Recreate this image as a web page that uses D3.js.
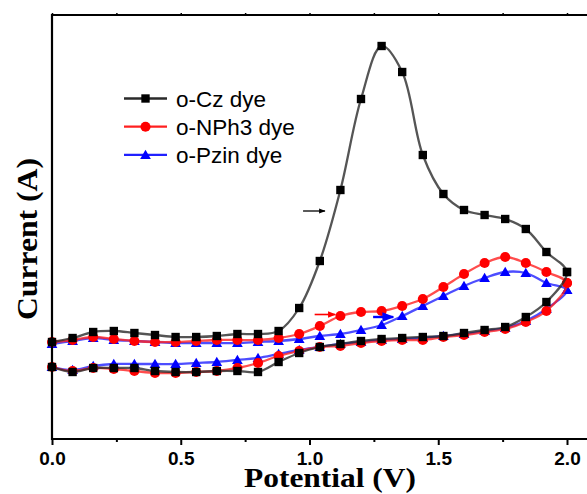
<!DOCTYPE html>
<html>
<head>
<meta charset="utf-8">
<script src="https://cdn.jsdelivr.net/npm/d3@7"></script>
<style>
  html, body { margin: 0; padding: 0; background: #fff; }
  svg { display: block; }
</style>
</head>
<body>
<svg id="chart" width="587" height="494"></svg>
<script>
// Potential sweep (V), sampled every 0.08 V
const potential = [0.00, 0.08, 0.16, 0.24, 0.32, 0.40, 0.48, 0.56, 0.64, 0.72, 0.80, 0.88, 0.96,
                   1.04, 1.12, 1.20, 1.28, 1.36, 1.44, 1.52, 1.60, 1.68, 1.76, 1.84, 1.92, 2.00];

// Current (arb. units) on the anodic (forward) scan, listed by ascending potential
const czForward    = [0.97, 1.01, 1.07, 1.08, 1.06, 1.04, 1.02, 1.02, 1.03, 1.05, 1.05, 1.08, 1.31,
                      1.78, 2.49, 3.40, 3.93, 3.67, 2.84, 2.45, 2.29, 2.24, 2.20, 2.10, 1.87, 1.67];
const nph3Forward  = [0.97, 0.99, 1.02, 1.00, 0.98, 0.97, 0.97, 0.98, 0.99, 0.99, 0.99, 1.01, 1.05,
                      1.13, 1.23, 1.27, 1.28, 1.33, 1.40, 1.52, 1.65, 1.76, 1.82, 1.76, 1.67, 1.56];
const pzinForward  = [0.95, 0.98, 1.01, 0.99, 0.98, 0.97, 0.96, 0.96, 0.96, 0.96, 0.97, 0.98, 1.00,
                      1.03, 1.05, 1.09, 1.14, 1.23, 1.33, 1.43, 1.53, 1.61, 1.67, 1.66, 1.56, 1.49];

// Current (arb. units) on the reverse scan, listed by ascending potential
const czReverse    = [0.72, 0.67, 0.71, 0.71, 0.71, 0.68, 0.67, 0.67, 0.68, 0.68, 0.67, 0.77, 0.86,
                      0.92, 0.95, 0.98, 1.00, 1.01, 1.02, 1.03, 1.06, 1.09, 1.12, 1.22, 1.37, 1.67];
const nph3Reverse  = [0.72, 0.68, 0.71, 0.70, 0.68, 0.66, 0.66, 0.67, 0.68, 0.71, 0.76, 0.83, 0.88,
                      0.92, 0.93, 0.96, 0.98, 0.99, 0.99, 1.02, 1.04, 1.07, 1.10, 1.17, 1.28, 1.56];
const pzinReverse  = [0.72, 0.69, 0.73, 0.75, 0.75, 0.75, 0.75, 0.76, 0.77, 0.79, 0.81, 0.85, 0.89,
                      0.92, 0.95, 0.97, 0.99, 1.00, 1.01, 1.03, 1.05, 1.08, 1.11, 1.18, 1.30, 1.49];

// scan-direction arrows: [start potential, end potential, current]
const czArrow   = [0.975, 1.06, 2.28];
const nph3Arrow = [1.02, 1.10, 1.245];
const pzinArrow = [1.247, 1.325, 1.22];

const seriesNames = ["o-Cz dye", "o-NPh3 dye", "o-Pzin dye"];
const xTickValues = [0.0, 0.5, 1.0, 1.5, 2.0];
const xMinorTicks = [0.25, 0.75, 1.25, 1.75];
const xTitle = "Potential (V)";
const yTitle = "Current (A)";

// ---------------------------------------------------------------
const svg = d3.select("#chart");
const W = 587, H = 494;
const plotLeft = 52, plotTop = 15, plotBottom = 439;

const x = d3.scaleLinear().domain([0, 2.1]).range([plotLeft, plotLeft + 2.1 * 257.5]);
const y = d3.scaleLinear().domain([0, 4.24]).range([plotBottom, plotTop]);

const series = [
  { name: seriesNames[0], fwd: czForward,   rev: czReverse,   arrow: czArrow,   color: "#000000", line: "#2a2a2a", shape: "square",   aw: 1.3 },
  { name: seriesNames[1], fwd: nph3Forward, rev: nph3Reverse, arrow: nph3Arrow, color: "#ff0000", line: "#ff2020", shape: "circle",   aw: 1.6 },
  { name: seriesNames[2], fwd: pzinForward, rev: pzinReverse, arrow: pzinArrow, color: "#0000ff", line: "#2020ff", shape: "triangle", aw: 2.4 }
];

const symbolFor = {
  square:   d3.symbol().type(d3.symbolSquare).size(70),
  circle:   d3.symbol().type(d3.symbolCircle).size(80),
  triangle: d3.symbol().type(d3.symbolTriangle).size(50)
};

const line = d3.line()
  .x(d => x(d[0]))
  .y(d => y(d[1]))
  .curve(d3.curveCatmullRom.alpha(0.5));

// draw blue first so black ends up on top
const drawOrder = [2, 1, 0];
const plot = svg.append("g");

drawOrder.forEach(i => {
  const s = series[i];
  const fwdPts = potential.map((p, k) => [p, s.fwd[k]]);
  const revPts = potential.map((p, k) => [p, s.rev[k]]).reverse().slice(1);
  const loop = fwdPts.concat(revPts);
  const g = plot.append("g");
  g.append("path")
    .attr("d", line(loop))
    .attr("fill", "none")
    .attr("stroke", s.line)
    .attr("stroke-opacity", 0.8)
    .attr("stroke-width", 2.3)
    .attr("stroke-linejoin", "round");
  const marks = fwdPts.concat(potential.map((p, k) => [p, s.rev[k]]));
  g.selectAll("path.m")
    .data(marks)
    .join("path")
    .attr("class", "m")
    .attr("d", symbolFor[s.shape])
    .attr("transform", d => `translate(${x(d[0])},${y(d[1]) + (s.shape === "triangle" ? 1 : 0)})`)
    .attr("fill", s.color);
});

// scan-direction arrows
svg.append("defs").selectAll("marker")
  .data(series)
  .join("marker")
  .attr("id", (d, i) => "arrow" + i)
  .attr("viewBox", "0 0 10 10")
  .attr("refX", 9).attr("refY", 5)
  .attr("markerWidth", 5).attr("markerHeight", 5)
  .attr("orient", "auto")
  .append("path")
  .attr("d", "M0,1 L10,5 L0,9 Z")
  .attr("fill", d => d.color);

series.forEach((s, i) => {
  svg.append("line")
    .attr("x1", x(s.arrow[0])).attr("x2", x(s.arrow[1]))
    .attr("y1", y(s.arrow[2])).attr("y2", y(s.arrow[2]))
    .attr("stroke", s.color)
    .attr("stroke-width", s.aw)
    .attr("marker-end", `url(#arrow${i})`);
});

// frame
const frame = svg.append("g").attr("stroke", "#000").attr("stroke-width", 2.2).attr("fill", "none");
frame.append("line").attr("x1", plotLeft).attr("x2", W + 5).attr("y1", plotTop).attr("y2", plotTop);
frame.append("line").attr("x1", plotLeft).attr("x2", W + 5).attr("y1", plotBottom).attr("y2", plotBottom);
frame.append("line").attr("x1", plotLeft).attr("x2", plotLeft).attr("y1", plotTop - 1.1).attr("y2", plotBottom + 1.1);

// bottom axis
const xAxis = d3.axisBottom(x).tickValues(xTickValues).tickFormat(d3.format(".1f")).tickSize(6).tickPadding(7);
const gx = svg.append("g").attr("transform", `translate(0,${plotBottom})`).call(xAxis);
gx.select(".domain").remove();
gx.selectAll(".tick line").attr("stroke-width", 2);
gx.selectAll(".tick text")
  .attr("font-family", "Liberation Sans, Arial, sans-serif")
  .attr("font-weight", "bold")
  .attr("font-size", 19)
  .attr("fill", "#000");

const xMinor = d3.axisBottom(x).tickValues(xMinorTicks).tickFormat("").tickSize(3);
const gxm = svg.append("g").attr("transform", `translate(0,${plotBottom})`).call(xMinor);
gxm.select(".domain").remove();
gxm.selectAll(".tick line").attr("stroke-width", 2);

// top axis ticks
const xTop = d3.axisTop(x).tickValues(xTickValues.concat(xMinorTicks)).tickFormat("").tickSize(2);
const gxt = svg.append("g").attr("transform", `translate(0,${plotTop})`).call(xTop);
gxt.select(".domain").remove();
gxt.selectAll(".tick line").attr("stroke-width", 1.5);

// axis titles
svg.append("text")
  .attr("x", 330).attr("y", 487)
  .attr("text-anchor", "middle")
  .attr("font-family", "Liberation Serif, Times New Roman, serif")
  .attr("font-weight", "bold")
  .attr("font-size", 28)
  .attr("textLength", 172)
  .attr("lengthAdjust", "spacingAndGlyphs")
  .text(xTitle);

svg.append("text")
  .attr("transform", "translate(37,239) rotate(-90)")
  .attr("text-anchor", "middle")
  .attr("font-family", "Liberation Serif, Times New Roman, serif")
  .attr("font-weight", "bold")
  .attr("font-size", 30)
  .attr("textLength", 162)
  .attr("lengthAdjust", "spacingAndGlyphs")
  .text(yTitle);

// legend
const legend = svg.append("g");
series.forEach((s, i) => {
  const ly = 98.5 + i * 28.2;
  legend.append("line")
    .attr("x1", 124).attr("x2", 167)
    .attr("y1", ly).attr("y2", ly)
    .attr("stroke", s.line).attr("stroke-width", 2.3);
  legend.append("path")
    .attr("d", symbolFor[s.shape])
    .attr("transform", `translate(145.5,${ly + (s.shape === "triangle" ? 1 : 0)})`)
    .attr("fill", s.color);
  legend.append("text")
    .attr("x", 176).attr("y", ly + 8)
    .attr("font-family", "Liberation Sans, Arial, sans-serif")
    .attr("font-size", 22.5)
    .attr("fill", "#000")
    .text(s.name);
});
</script>
</body>
</html>
